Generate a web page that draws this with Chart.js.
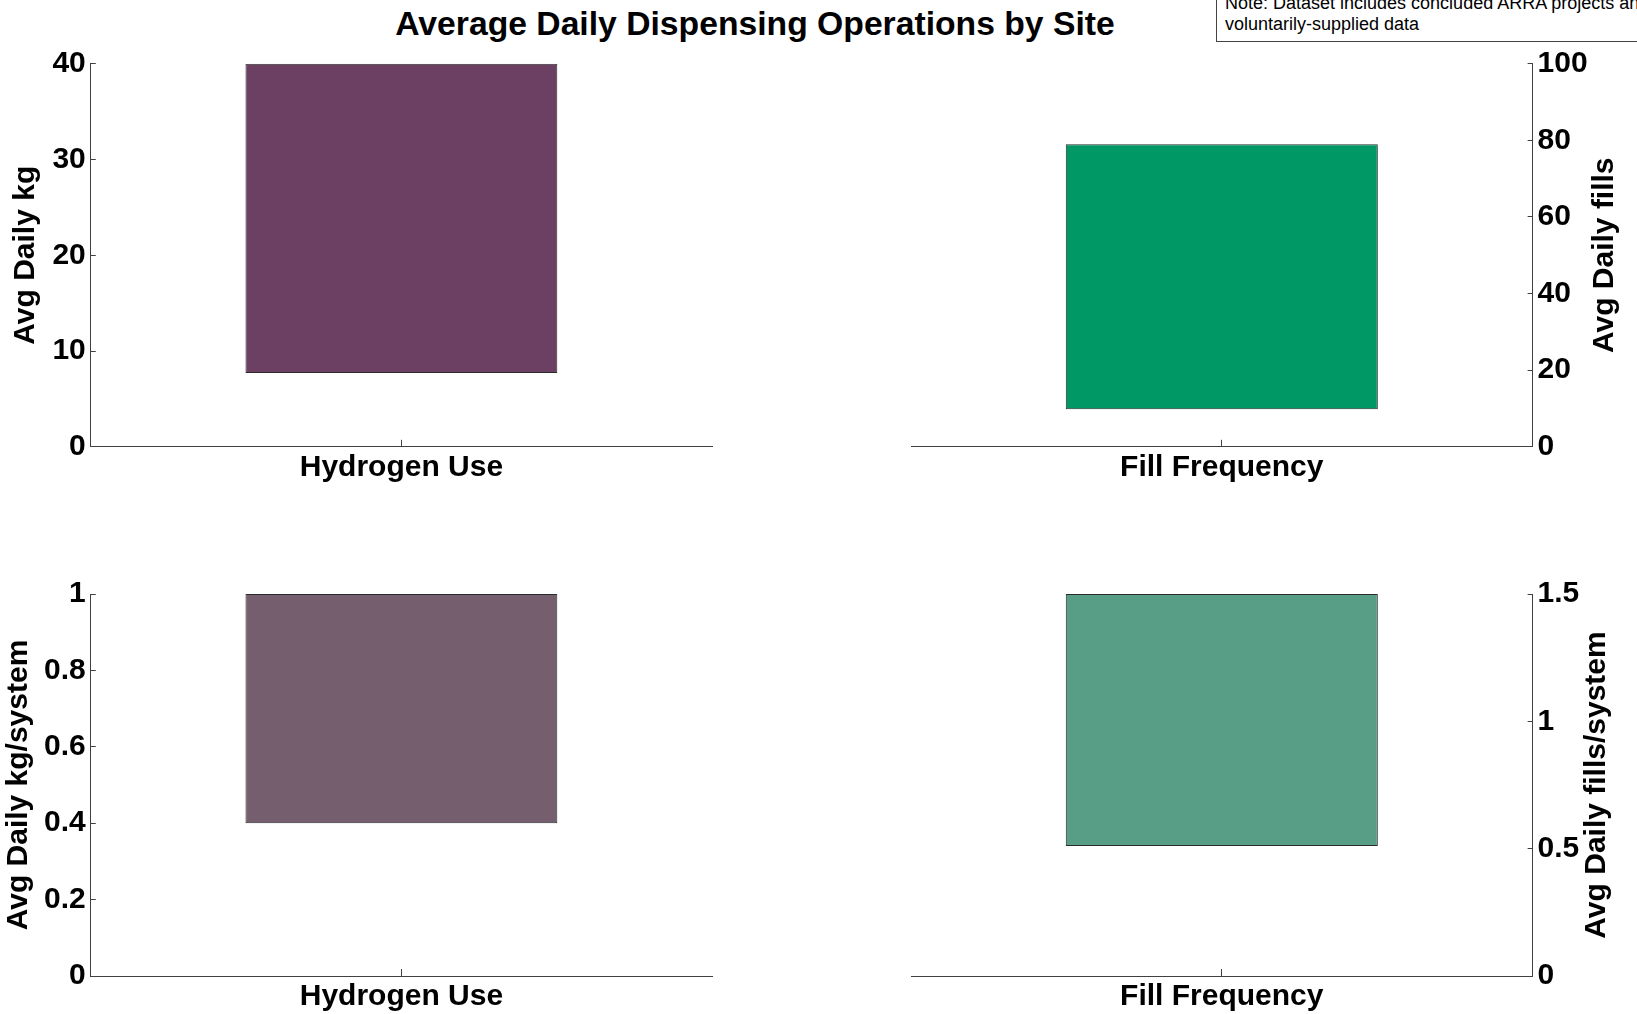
<!DOCTYPE html>
<html>
<head>
<meta charset="utf-8">
<script src="https://cdn.jsdelivr.net/npm/chart.js@4/dist/chart.umd.min.js"></script>
<style>
  html, body { margin: 0; padding: 0; background: #fff; overflow: hidden; }
  body { width: 1637px; height: 1014px; position: relative; font-family: 'Liberation Sans', Arial, sans-serif; }
  canvas { position: absolute; }
  #titulo { position: absolute; left: 0; top: 0; width: 1510px; line-height: 46px; text-align: center; font-size: 33.7px; font-weight: bold; color: #000; }
  #nota { position: absolute; left: 1216px; top: -8px; width: 600px; padding: 0 0 6px 8px; border: 1px solid #444; font-size: 18px; line-height: 21px; color: #000; }
</style>
</head>
<body>
<div id="titulo">Average Daily Dispensing Operations by Site</div>
<div id="nota">Note: Dataset includes concluded ARRA projects and<br>voluntarily-supplied data</div>
<canvas id="graficoKg" width="750" height="480" style="left:0;top:20px"></canvas>
<canvas id="graficoFills" width="757" height="480" style="left:880px;top:20px"></canvas>
<canvas id="graficoKgSistema" width="750" height="464" style="left:0;top:550px"></canvas>
<canvas id="graficoFillsSistema" width="757" height="464" style="left:880px;top:550px"></canvas>
<script>
// categorias
const categoriaHidrogenio = ['Hydrogen Use'];
const categoriaAbastecimento = ['Fill Frequency'];

// barras flutuantes [baixo, alto]
const kgDiario = [[7.7, 40]];
const abastecimentosDiarios = [[9.8, 79]];
const kgPorSistema = [[0.4, 1]];
const abastecimentosPorSistema = [[0.51, 1.5]];

// ticks dos eixos
const ticksKg = [0, 10, 20, 30, 40];
const ticksFills = [0, 20, 40, 60, 80, 100];
const ticksKgSistema = [0, 0.2, 0.4, 0.6, 0.8, 1];
const ticksFillsSistema = [0, 0.5, 1, 1.5];

const fonte = { family: "'Liberation Sans', Arial, sans-serif", size: 30, weight: 'bold' };

// titulo do eixo da direita, lido de baixo para cima
const tituloDireita = {
  id: 'tituloDireita',
  afterDraw(chart, args, opts) {
    if (!opts.text) return;
    const eixo = chart.scales.y;
    const c = chart.ctx;
    c.save();
    c.translate(eixo.right - opts.offset, (eixo.top + eixo.bottom) / 2);
    c.rotate(-Math.PI / 2);
    c.font = 'bold 30px ' + fonte.family;
    c.fillStyle = '#000';
    c.textAlign = 'center';
    c.textBaseline = 'middle';
    c.fillText(opts.text, 0, 0);
    c.restore();
  }
};

function criarGrafico(id, cfg) {
  const ctx = document.getElementById(id).getContext('2d');
  const direita = cfg.lado === 'right';
  return new Chart(ctx, {
    type: 'bar',
    data: {
      labels: cfg.labels,
      datasets: [{
        data: cfg.dados,
        backgroundColor: cfg.cor,
        borderColor: '#2b2b2b',
        borderWidth: 1,
        borderSkipped: false,
        barPercentage: 0.502,
        categoryPercentage: 1
      }]
    },
    plugins: [tituloDireita],
    options: {
      responsive: false,
      animation: false,
      devicePixelRatio: 1,
      layout: { padding: cfg.padding },
      plugins: {
        legend: { display: false },
        tooltip: { enabled: false },
        tituloDireita: { text: direita ? cfg.tituloY : '', offset: cfg.offsetTitulo }
      },
      scales: {
        x: {
          grid: { display: true, drawOnChartArea: false, drawTicks: true, tickLength: -7, offset: false, color: '#404040' },
          border: { display: true, color: '#404040', width: 1 },
          ticks: { color: '#000', font: fonte, padding: 10 },
          afterFit: function(eixo) { eixo.height = cfg.alturaX; }
        },
        y: {
          position: cfg.lado,
          min: cfg.ticks[0],
          max: cfg.ticks[cfg.ticks.length - 1],
          grid: { display: true, drawOnChartArea: false, drawTicks: true, tickLength: -5, color: '#404040' },
          border: { display: true, color: '#404040', width: 1 },
          ticks: {
            color: '#000',
            font: fonte,
            padding: 10,
            autoSkip: false,
            stepSize: cfg.ticks[1] - cfg.ticks[0],
            callback: function(v) { return String(+v.toFixed(2)); }
          },
          title: {
            display: !direita,
            text: cfg.tituloY,
            color: '#000',
            font: fonte,
            padding: { top: cfg.offsetTitulo - 18, bottom: 0 }
          },
          afterFit: function(eixo) { eixo.width = cfg.larguraY; }
        }
      }
    }
  });
}

const graficoKg = criarGrafico('graficoKg', {
  labels: categoriaHidrogenio, dados: kgDiario, cor: '#6b4062', ticks: ticksKg,
  lado: 'left', tituloY: 'Avg Daily kg', offsetTitulo: 26,
  larguraY: 90.8, alturaX: 53.2, padding: { left: 0, top: 43.7, right: 38, bottom: 0 }
});

const graficoFills = criarGrafico('graficoFills', {
  labels: categoriaAbastecimento, dados: abastecimentosDiarios, cor: '#009966', ticks: ticksFills,
  lado: 'right', tituloY: 'Avg Daily fills', offsetTitulo: 32,
  larguraY: 104.4, alturaX: 53.2, padding: { left: 31, top: 43.7, right: 0, bottom: 0 }
});

const graficoKgSistema = criarGrafico('graficoKgSistema', {
  labels: categoriaHidrogenio, dados: kgPorSistema, cor: '#755f6e', ticks: ticksKgSistema,
  lado: 'left', tituloY: 'Avg Daily kg/system', offsetTitulo: 18.3,
  larguraY: 90.8, alturaX: 38, padding: { left: 0, top: 44, right: 38, bottom: 0 }
});

const graficoFillsSistema = criarGrafico('graficoFillsSistema', {
  labels: categoriaAbastecimento, dados: abastecimentosPorSistema, cor: '#589e86', ticks: ticksFillsSistema,
  lado: 'right', tituloY: 'Avg Daily fills/system', offsetTitulo: 40,
  larguraY: 104.4, alturaX: 38, padding: { left: 31, top: 44, right: 0, bottom: 0 }
});
</script>
</body>
</html>
